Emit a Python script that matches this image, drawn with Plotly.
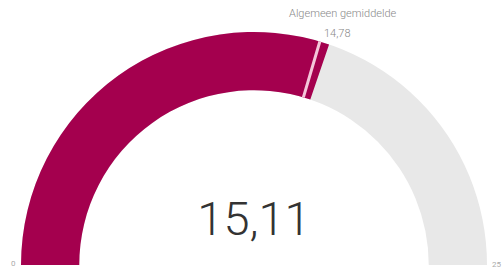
import plotly.graph_objects as go

value = 15.11
average = 14.78
gauge_min = 0
gauge_max = 25
avg_label = "Algemeen gemiddelde"

W, H = 503, 270

fig = go.Figure()
fig.add_trace(go.Indicator(
    mode="gauge",
    value=value,
    gauge=dict(
        shape="angular",
        axis=dict(range=[gauge_min, gauge_max], visible=False),
        bar=dict(color="#A4004E", thickness=1),
        bgcolor="#E8E8E8",
        borderwidth=0,
        threshold=dict(line=dict(color="#F4C6DA", width=3), thickness=1, value=average),
    ),
    domain=dict(x=[21 / W, 487 / W], y=[1 - 265 / H, 1 - 32 / H]),
))
fig.add_trace(go.Indicator(
    mode="number",
    value=value,
    number=dict(valueformat=".2f", font=dict(family="Roboto", size=47, color="#333333", weight=300)),
    domain=dict(x=[154 / W, 354 / W], y=[1 - 250 / H, 1 - 186 / H]),
))

label_font = dict(family="Roboto", size=11, color="#888888", weight=300)
fig.add_annotation(x=343 / W, y=1 - 13 / H, xref="paper", yref="paper",
                   xanchor="center", yanchor="middle",
                   text=avg_label, showarrow=False, font=label_font)
fig.add_annotation(x=337 / W, y=1 - 33 / H, xref="paper", yref="paper",
                   xanchor="center", yanchor="middle",
                   text=f"{average:.2f}".replace(".", ","), showarrow=False, font=label_font)
fig.add_annotation(x=13 / W, y=1 - 263 / H, xref="paper", yref="paper",
                   xanchor="center", yanchor="middle",
                   text=str(gauge_min), showarrow=False,
                   font=dict(family="Roboto", size=8, color="#AAAAAA"))
fig.add_annotation(x=496 / W, y=1 - 264 / H, xref="paper", yref="paper",
                   xanchor="center", yanchor="middle",
                   text=str(gauge_max), showarrow=False,
                   font=dict(family="Roboto", size=8, color="#AAAAAA"))

fig.update_layout(
    width=W, height=H,
    margin=dict(l=0, r=0, t=0, b=0),
    paper_bgcolor="white",
    separators=",.",
)

fig.write_html("out.html", config={"displayModeBar": False},
               post_script="document.body.style.margin='0';")
